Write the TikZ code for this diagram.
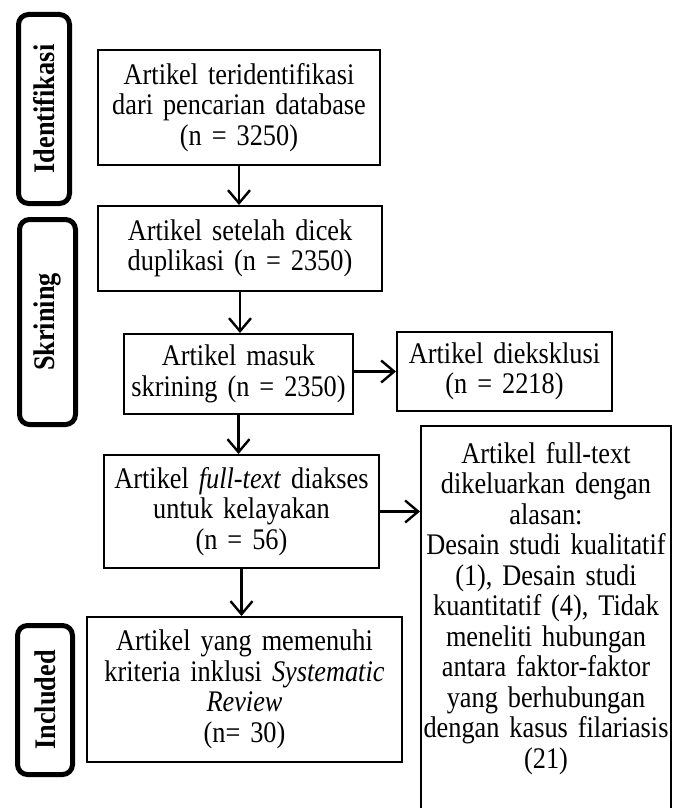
\documentclass[tikz,border=0pt]{standalone}
\usepackage{fontspec}
\setmainfont[FakeStretch=0.88]{Liberation Serif}
\usepackage{tikz}
\usetikzlibrary{positioning}
\usetikzlibrary{arrows.meta}
\newcommand{\flowfont}{\fontsize{29.9}{30.5}\selectfont}
\tikzset{
    flowBox/.style={draw, line width=2pt, align=center, inner sep=2pt, font=\flowfont},
    stageBox/.style={draw, line width=5pt, rounded corners=10pt, rotate=90, inner sep=0pt, font=\flowfont\bfseries},
    flowArrow/.style={line width=2.4pt, -{Straight Barb[length=13pt,width=22pt]}}
}

\begin{document}
\begin{tikzpicture}[x=1pt,y=-1pt]
			\useasboundingbox (0,0) rectangle (683,808);
			% stages
			\node[stageBox, minimum width=189pt, minimum height=51pt] (idStage) at (44,109) {Identifikasi};
			\node[stageBox, minimum width=205pt, minimum height=56pt] (skStage) at (47.5,322) {Skrining};
			\node[stageBox, minimum width=149pt, minimum height=55pt] (incStage) at (45,700) {Included};
			% boxes
			\node[flowBox, text width=278pt, minimum height=115pt] (found) at (239,107.5) {Artikel teridentifikasi\\dari pencarian database\\(n = 3250)};
			\node[flowBox, text width=280pt, minimum height=85pt] (noDup) at (240,248.5) {Artikel setelah dicek\\duplikasi (n = 2350)};
			\node[flowBox, text width=225pt, minimum height=80pt] (screened) at (238.5,374) {Artikel masuk\\skrining (n = 2350)};
			\node[flowBox, text width=211pt, minimum height=79pt] (excluded) at (504.5,371.5) {Artikel dieksklusi\\(n = 2218)};
			\node[flowBox, text width=271pt, minimum height=113pt] (fullText) at (241.5,511.5) {Artikel \textit{full-text} diakses\\untuk kelayakan\\(n = 56)};
			\node[flowBox, anchor=north, text width=248pt, inner xsep=1pt, inner ysep=3pt, text height=34pt, text depth=347pt] (reasons) at (546,425) {Artikel full-text\\dikeluarkan dengan\\alasan:\\Desain studi kualitatif\\(1), Desain studi\\kuantitatif (4), Tidak\\meneliti hubungan\\antara faktor-faktor\\yang berhubungan\\dengan kasus filariasis\\(21)};
			\node[flowBox, text width=311pt, minimum height=145pt] (included) at (244.5,689.5) {Artikel yang memenuhi\\kriteria inklusi \textit{Systematic}\\\textit{Review}\\(n= 30)};
			% arrows
			\draw[flowArrow] (found.south) -- (found.south |- noDup.north);
			\draw[flowArrow] (noDup.south) -- (noDup.south |- screened.north);
			\draw[flowArrow] (screened.east |- excluded.west) -- (excluded.west);
			\draw[flowArrow] (screened.south) -- (screened.south |- fullText.north);
			\draw[flowArrow] (fullText.east) -- (fullText.east -| reasons.west);
			\draw[flowArrow] (fullText.south) -- (fullText.south |- included.north);
	\end{tikzpicture}
\end{document}
